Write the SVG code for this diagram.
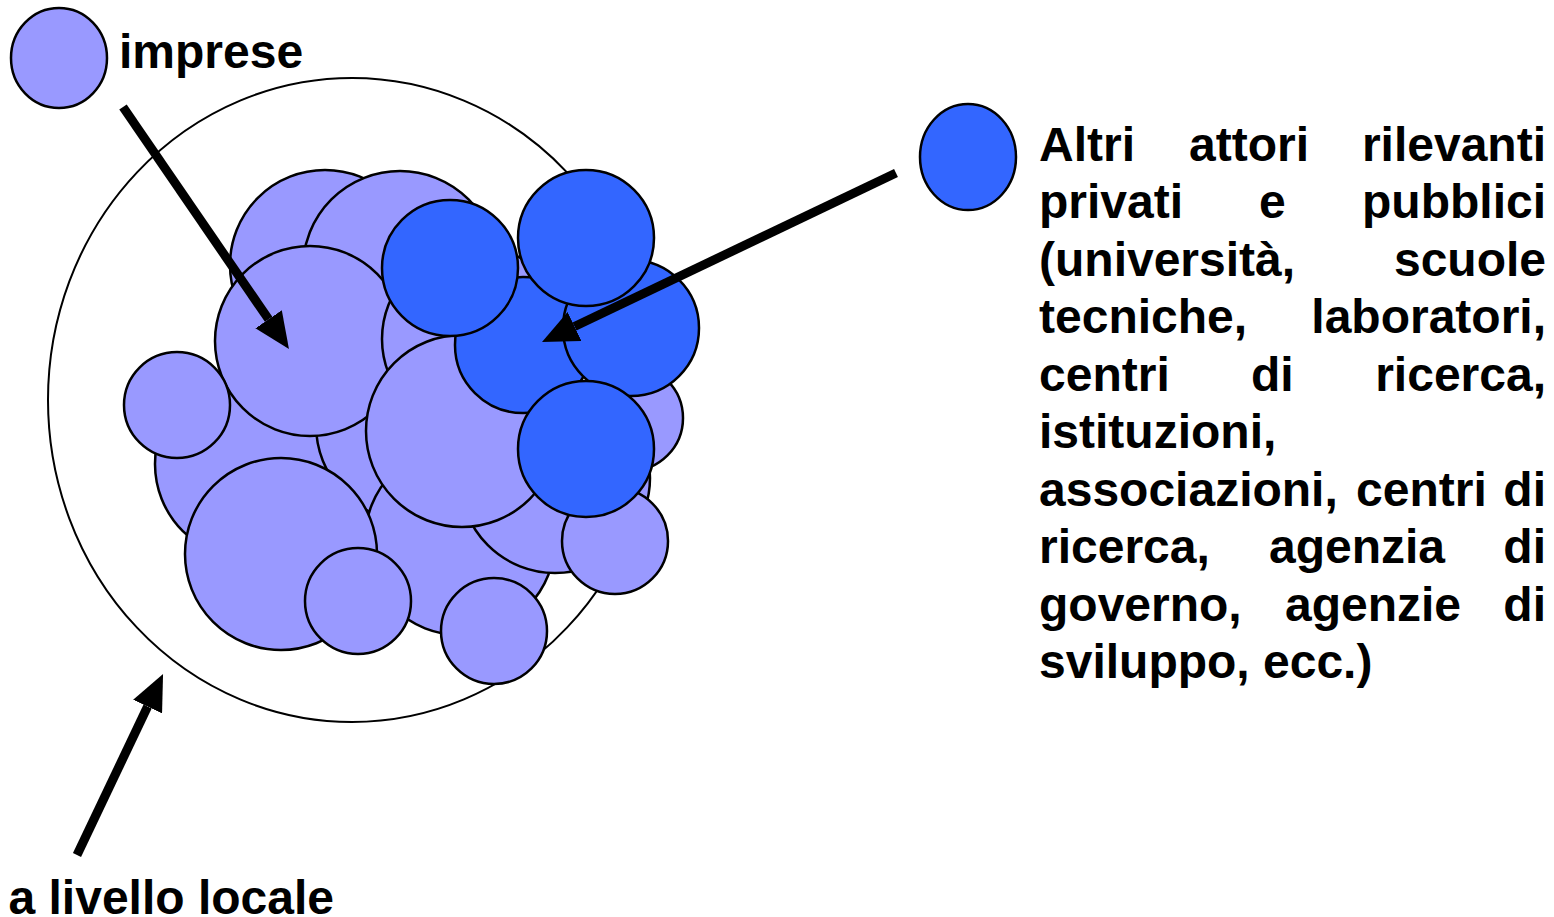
<svg xmlns="http://www.w3.org/2000/svg" width="1554" height="917" viewBox="0 0 1554 917">
<style>
.lt{fill:#9999FF;stroke:#000;stroke-width:2.5}
.dk{fill:#3366FF;stroke:#000;stroke-width:2.5}
.ring{fill:none;stroke:#000;stroke-width:2}
.t{font-family:"Liberation Sans",Arial,sans-serif;font-weight:bold;font-size:48px;fill:#000}
.arr{stroke:#000;stroke-width:9;fill:none;marker-end:url(#ah)}
</style>
<defs>
<marker id="ah" viewBox="0 -16 36 32" refX="0" refY="0" markerWidth="36" markerHeight="32" markerUnits="userSpaceOnUse" orient="auto">
<path d="M0,-16 L36,0 L0,16 z" fill="#000"/>
</marker>
</defs>
<rect width="1554" height="917" fill="#fff"/>
<g id="locale">
<ellipse class="ring" cx="352" cy="400" rx="304" ry="322"/>
</g>
<g id="cluster">
<circle class="lt" cx="325" cy="265" r="95"/>
<circle class="lt" cx="400" cy="268" r="97"/>
<circle class="lt" cx="250" cy="464" r="95"/>
<circle class="lt" cx="413" cy="425" r="97"/>
<circle class="lt" cx="460" cy="540" r="95"/>
<circle class="lt" cx="555" cy="478" r="95"/>
<circle class="lt" cx="630" cy="418" r="53"/>
<circle class="lt" cx="310" cy="341" r="95"/>
<circle class="lt" cx="475" cy="339" r="93"/>
<circle class="lt" cx="177" cy="405" r="53"/>
<circle class="lt" cx="462" cy="431" r="96"/>
<circle class="lt" cx="281" cy="554" r="96"/>
<circle class="lt" cx="358" cy="601" r="53"/>
<circle class="lt" cx="494" cy="631" r="53"/>
<circle class="lt" cx="615" cy="541" r="53"/>
<circle class="dk" cx="523" cy="345" r="68"/>
<circle class="dk" cx="631" cy="328" r="68"/>
<circle class="dk" cx="586" cy="238" r="68"/>
<circle class="dk" cx="450" cy="268" r="68"/>
<circle class="dk" cx="586" cy="449" r="68"/>
</g>
<g id="legend-imprese">
<ellipse class="lt" cx="59" cy="58" rx="48" ry="50"/>
<text class="t" x="119" y="68">imprese</text>
</g>
<g id="legend-altri">
<ellipse class="dk" cx="968" cy="157" rx="48" ry="53"/>
<text class="t" x="1039" y="161">Altri</text>
<text class="t" x="1189" y="161">attori</text>
<text class="t" x="1546" y="161" text-anchor="end">rilevanti</text>
<text class="t" x="1039" y="218.4">privati</text>
<text class="t" x="1259" y="218.4">e</text>
<text class="t" x="1546" y="218.4" text-anchor="end">pubblici</text>
<text class="t" x="1039" y="275.9">(università,</text>
<text class="t" x="1546" y="275.9" text-anchor="end">scuole</text>
<text class="t" x="1039" y="333.3">tecniche,</text>
<text class="t" x="1546" y="333.3" text-anchor="end">laboratori,</text>
<text class="t" x="1039" y="390.8">centri</text>
<text class="t" x="1251" y="390.8">di</text>
<text class="t" x="1546" y="390.8" text-anchor="end">ricerca,</text>
<text class="t" x="1039" y="448.2">istituzioni,</text>
<text class="t" x="1039" y="505.6">associazioni,</text>
<text class="t" x="1356" y="505.6">centri</text>
<text class="t" x="1546" y="505.6" text-anchor="end">di</text>
<text class="t" x="1039" y="563.1">ricerca,</text>
<text class="t" x="1269" y="563.1">agenzia</text>
<text class="t" x="1546" y="563.1" text-anchor="end">di</text>
<text class="t" x="1039" y="620.5">governo,</text>
<text class="t" x="1285" y="620.5">agenzie</text>
<text class="t" x="1546" y="620.5" text-anchor="end">di</text>
<text class="t" x="1039" y="678">sviluppo, ecc.)</text>
</g>
<g id="label-locale">
<text class="t" x="8.5" y="914">a livello locale</text>
</g>
<g id="connectors">
<line class="arr" x1="123" y1="107" x2="268.6" y2="319.3"/>
<line class="arr" x1="896" y1="173" x2="574.5" y2="326.5"/>
<line class="arr" x1="77" y1="855" x2="147.6" y2="706.5"/>
</g>
</svg>
